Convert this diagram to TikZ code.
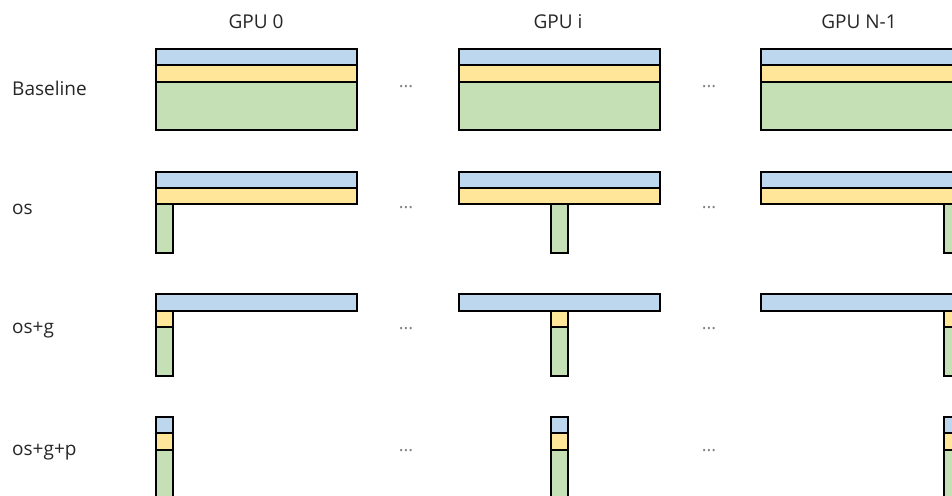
\documentclass[tikz,border=0pt]{standalone}
\usepackage{fontspec}
\setmainfont{Open Sans}
\definecolor{cblue}{HTML}{BDD7EE}
\definecolor{cyellow}{HTML}{FFE699}
\definecolor{cgreen}{HTML}{C5E0B4}
\definecolor{ctext}{HTML}{262626}
\begin{document}
\begin{tikzpicture}[x=1pt,y=-1pt,
  seg/.style={draw=black,line width=2pt},
  bl/.style={seg,fill=cblue},
  ye/.style={seg,fill=cyellow},
  gr/.style={seg,fill=cgreen},
  lab/.style={text=ctext,font=\fontsize{19}{21}\selectfont,inner sep=0pt},
  dots/.style={text=gray,font=\fontsize{18}{20}\selectfont,inner sep=0pt}]
\useasboundingbox (0,0) rectangle (952,495);
\clip (0,0) rectangle (952,495);
% column headers
\node[lab] (h0) at (256,22) {GPU 0};
\node[lab] (hi) at (558,22) {GPU i};
\node[lab] (hn) at (859,22) {GPU N-1};
% row labels
\node[lab,anchor=west] (r1) at (12,88) {Baseline};
\node[lab,anchor=west] (r2) at (12,209) {os};
\node[lab,anchor=west] (r3) at (12,330) {os+g};
\node[lab,anchor=west] (r4) at (12,452) {os+g+p};
% ellipses
\foreach \y/\n in {87/1,208/2,329/3,451/4}{
  \node[dots] (da\n) at (406,\y) {...};
  \node[dots] (db\n) at (709,\y) {...};
}
% GPU left edges and column offsets
\foreach \L/\C in {156/156, 459/551, 761/944}{
  % Baseline
  \draw[gr] (\L,82) rectangle ++(201,48);
  \draw[ye] (\L,65) rectangle ++(201,17);
  \draw[bl] (\L,49) rectangle ++(201,16);
  % os
  \draw[gr] (\C,204) rectangle ++(17,49);
  \draw[ye] (\L,188) rectangle ++(201,16);
  \draw[bl] (\L,172) rectangle ++(201,16);
  % os+g
  \draw[gr] (\C,327) rectangle ++(17,49);
  \draw[ye] (\C,311) rectangle ++(17,16);
  \draw[bl] (\L,294) rectangle ++(201,17);
  % os+g+p
  \draw[gr] (\C,450) rectangle ++(17,52);
  \draw[ye] (\C,433) rectangle ++(17,17);
  \draw[bl] (\C,417) rectangle ++(17,16);
}
\end{tikzpicture}
\end{document}
